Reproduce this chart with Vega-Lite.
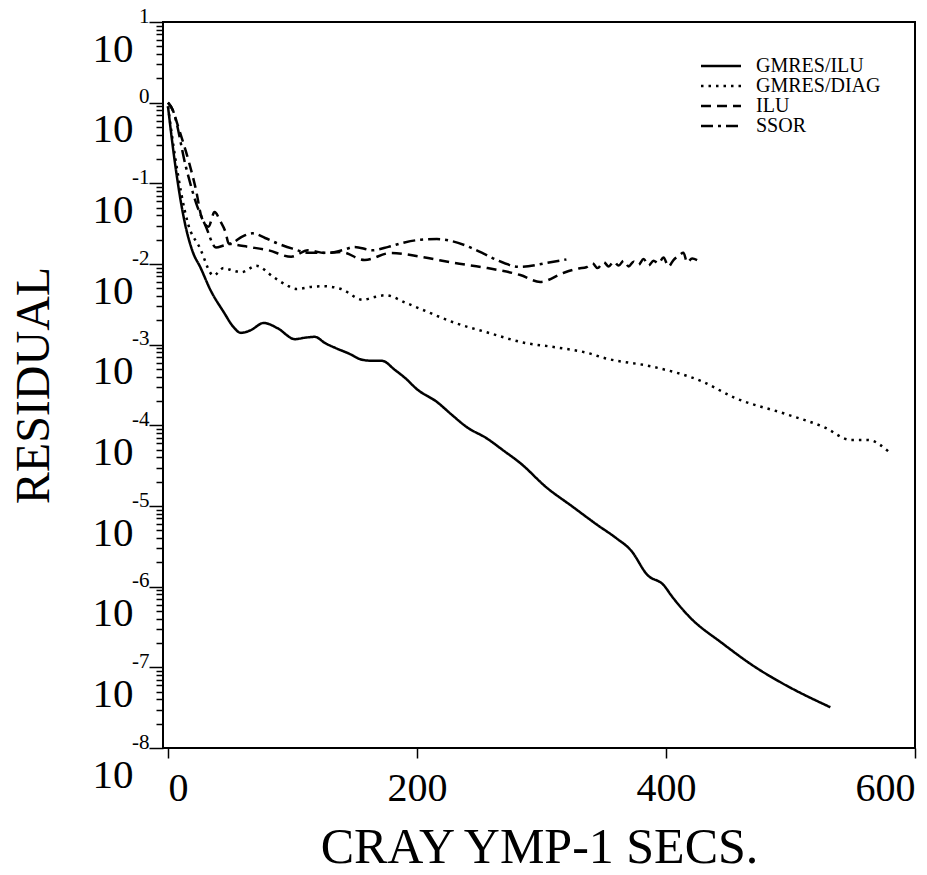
{
  "$schema": "https://vega.github.io/schema/vega-lite/v6.json",
  "width": 752,
  "height": 726,
  "autosize": {"type": "none"},
  "padding": {"left": 163, "top": 22, "right": 12, "bottom": 127},
  "background": "white",
  "config": {
    "font": "Liberation Serif",
    "view": {"stroke": "black", "strokeWidth": 2},
    "axis": {"domain": false, "grid": false, "tickColor": "black", "tickWidth": 1.5, "labelColor": "black", "titleColor": "black", "titleFontWeight": "normal", "labelFlush": false, "labelOverlap": false, "labelBound": false}
  },
  "data": {
    "values": [
      {"s": "GMRES/ILU", "t": 0, "r": 0.9},
      {"s": "GMRES/ILU", "t": 5, "r": 0.21},
      {"s": "GMRES/ILU", "t": 13.6, "r": 0.032},
      {"s": "GMRES/ILU", "t": 20, "r": 0.014},
      {"s": "GMRES/ILU", "t": 26, "r": 0.0091},
      {"s": "GMRES/ILU", "t": 34, "r": 0.0048},
      {"s": "GMRES/ILU", "t": 45, "r": 0.0025},
      {"s": "GMRES/ILU", "t": 52, "r": 0.0017},
      {"s": "GMRES/ILU", "t": 58.6, "r": 0.0014},
      {"s": "GMRES/ILU", "t": 66, "r": 0.0015},
      {"s": "GMRES/ILU", "t": 77, "r": 0.00186},
      {"s": "GMRES/ILU", "t": 88, "r": 0.0016},
      {"s": "GMRES/ILU", "t": 102, "r": 0.00117},
      {"s": "GMRES/ILU", "t": 110, "r": 0.00122},
      {"s": "GMRES/ILU", "t": 118, "r": 0.00125},
      {"s": "GMRES/ILU", "t": 126, "r": 0.00105},
      {"s": "GMRES/ILU", "t": 134.5, "r": 0.00091},
      {"s": "GMRES/ILU", "t": 145, "r": 0.00078},
      {"s": "GMRES/ILU", "t": 156, "r": 0.00065},
      {"s": "GMRES/ILU", "t": 165, "r": 0.00063},
      {"s": "GMRES/ILU", "t": 172, "r": 0.00063},
      {"s": "GMRES/ILU", "t": 182, "r": 0.00049},
      {"s": "GMRES/ILU", "t": 191, "r": 0.00038},
      {"s": "GMRES/ILU", "t": 200, "r": 0.00028},
      {"s": "GMRES/ILU", "t": 216, "r": 0.000195},
      {"s": "GMRES/ILU", "t": 228, "r": 0.000135},
      {"s": "GMRES/ILU", "t": 240, "r": 0.000095},
      {"s": "GMRES/ILU", "t": 256, "r": 0.000069},
      {"s": "GMRES/ILU", "t": 270, "r": 0.000048},
      {"s": "GMRES/ILU", "t": 283, "r": 0.000034},
      {"s": "GMRES/ILU", "t": 304, "r": 0.000017},
      {"s": "GMRES/ILU", "t": 325, "r": 0.0000098},
      {"s": "GMRES/ILU", "t": 345, "r": 0.0000058},
      {"s": "GMRES/ILU", "t": 360, "r": 0.000004},
      {"s": "GMRES/ILU", "t": 372, "r": 0.0000028},
      {"s": "GMRES/ILU", "t": 385, "r": 0.0000014},
      {"s": "GMRES/ILU", "t": 398, "r": 0.00000105},
      {"s": "GMRES/ILU", "t": 405, "r": 0.00000075},
      {"s": "GMRES/ILU", "t": 419, "r": 0.00000042},
      {"s": "GMRES/ILU", "t": 445, "r": 0.0000002},
      {"s": "GMRES/ILU", "t": 472, "r": 0.0000001},
      {"s": "GMRES/ILU", "t": 493, "r": 0.000000064},
      {"s": "GMRES/ILU", "t": 532, "r": 0.000000032},

      {"s": "GMRES/DIAG", "t": 0, "r": 0.9},
      {"s": "GMRES/DIAG", "t": 6, "r": 0.2},
      {"s": "GMRES/DIAG", "t": 16, "r": 0.032},
      {"s": "GMRES/DIAG", "t": 25.5, "r": 0.016},
      {"s": "GMRES/DIAG", "t": 36.6, "r": 0.0072},
      {"s": "GMRES/DIAG", "t": 44.6, "r": 0.0089},
      {"s": "GMRES/DIAG", "t": 52, "r": 0.0083},
      {"s": "GMRES/DIAG", "t": 59, "r": 0.0079},
      {"s": "GMRES/DIAG", "t": 71, "r": 0.0095},
      {"s": "GMRES/DIAG", "t": 84.7, "r": 0.0069},
      {"s": "GMRES/DIAG", "t": 95, "r": 0.0055},
      {"s": "GMRES/DIAG", "t": 103, "r": 0.0049},
      {"s": "GMRES/DIAG", "t": 115, "r": 0.0052},
      {"s": "GMRES/DIAG", "t": 124.6, "r": 0.0053},
      {"s": "GMRES/DIAG", "t": 139, "r": 0.0049},
      {"s": "GMRES/DIAG", "t": 156.6, "r": 0.0036},
      {"s": "GMRES/DIAG", "t": 166, "r": 0.0039},
      {"s": "GMRES/DIAG", "t": 175, "r": 0.0041},
      {"s": "GMRES/DIAG", "t": 191, "r": 0.0033},
      {"s": "GMRES/DIAG", "t": 204.6, "r": 0.0027},
      {"s": "GMRES/DIAG", "t": 231, "r": 0.00185},
      {"s": "GMRES/DIAG", "t": 255, "r": 0.00144},
      {"s": "GMRES/DIAG", "t": 287, "r": 0.00105},
      {"s": "GMRES/DIAG", "t": 311, "r": 0.00093},
      {"s": "GMRES/DIAG", "t": 337, "r": 0.00079},
      {"s": "GMRES/DIAG", "t": 351, "r": 0.00068},
      {"s": "GMRES/DIAG", "t": 390, "r": 0.00053},
      {"s": "GMRES/DIAG", "t": 429, "r": 0.00035},
      {"s": "GMRES/DIAG", "t": 455, "r": 0.00022},
      {"s": "GMRES/DIAG", "t": 495, "r": 0.00014},
      {"s": "GMRES/DIAG", "t": 527, "r": 0.000095},
      {"s": "GMRES/DIAG", "t": 548.5, "r": 0.000066},
      {"s": "GMRES/DIAG", "t": 562, "r": 0.000066},
      {"s": "GMRES/DIAG", "t": 579, "r": 0.000047},

      {"s": "ILU", "t": 0, "r": 1.0},
      {"s": "ILU", "t": 3, "r": 0.86},
      {"s": "ILU", "t": 9, "r": 0.46},
      {"s": "ILU", "t": 17, "r": 0.18},
      {"s": "ILU", "t": 22.5, "r": 0.083},
      {"s": "ILU", "t": 27, "r": 0.038},
      {"s": "ILU", "t": 32.5, "r": 0.029},
      {"s": "ILU", "t": 37.4, "r": 0.044},
      {"s": "ILU", "t": 42, "r": 0.034},
      {"s": "ILU", "t": 46.4, "r": 0.0243},
      {"s": "ILU", "t": 48.7, "r": 0.018},
      {"s": "ILU", "t": 53.5, "r": 0.0174},
      {"s": "ILU", "t": 64.6, "r": 0.0163},
      {"s": "ILU", "t": 80.6, "r": 0.0148},
      {"s": "ILU", "t": 99, "r": 0.0123},
      {"s": "ILU", "t": 112.5, "r": 0.0148},
      {"s": "ILU", "t": 126, "r": 0.0137},
      {"s": "ILU", "t": 139, "r": 0.0141},
      {"s": "ILU", "t": 158, "r": 0.0112},
      {"s": "ILU", "t": 179, "r": 0.0137},
      {"s": "ILU", "t": 203, "r": 0.0123},
      {"s": "ILU", "t": 230, "r": 0.0103},
      {"s": "ILU", "t": 256.6, "r": 0.0089},
      {"s": "ILU", "t": 283, "r": 0.0073},
      {"s": "ILU", "t": 299, "r": 0.006},
      {"s": "ILU", "t": 318, "r": 0.0078},
      {"s": "ILU", "t": 330, "r": 0.0088},
      {"s": "ILU", "t": 336, "r": 0.00912},
      {"s": "ILU", "t": 341, "r": 0.0102},
      {"s": "ILU", "t": 345, "r": 0.00891},
      {"s": "ILU", "t": 350, "r": 0.0105},
      {"s": "ILU", "t": 354, "r": 0.00933},
      {"s": "ILU", "t": 358, "r": 0.0107},
      {"s": "ILU", "t": 362, "r": 0.00955},
      {"s": "ILU", "t": 366, "r": 0.011},
      {"s": "ILU", "t": 370, "r": 0.00933},
      {"s": "ILU", "t": 374, "r": 0.0107},
      {"s": "ILU", "t": 378, "r": 0.00977},
      {"s": "ILU", "t": 382, "r": 0.0115},
      {"s": "ILU", "t": 386, "r": 0.00955},
      {"s": "ILU", "t": 390, "r": 0.011},
      {"s": "ILU", "t": 394, "r": 0.0102},
      {"s": "ILU", "t": 398, "r": 0.012},
      {"s": "ILU", "t": 402, "r": 0.00933},
      {"s": "ILU", "t": 406, "r": 0.0112},
      {"s": "ILU", "t": 410, "r": 0.0126},
      {"s": "ILU", "t": 414, "r": 0.0138},
      {"s": "ILU", "t": 417, "r": 0.0105},
      {"s": "ILU", "t": 421, "r": 0.0117},
      {"s": "ILU", "t": 425, "r": 0.0112},

      {"s": "SSOR", "t": 0, "r": 1.0},
      {"s": "SSOR", "t": 4, "r": 0.8},
      {"s": "SSOR", "t": 14.4, "r": 0.16},
      {"s": "SSOR", "t": 22.6, "r": 0.057},
      {"s": "SSOR", "t": 30.5, "r": 0.029},
      {"s": "SSOR", "t": 38.5, "r": 0.016},
      {"s": "SSOR", "t": 45, "r": 0.017},
      {"s": "SSOR", "t": 51, "r": 0.018},
      {"s": "SSOR", "t": 60, "r": 0.022},
      {"s": "SSOR", "t": 68, "r": 0.024},
      {"s": "SSOR", "t": 78, "r": 0.021},
      {"s": "SSOR", "t": 88, "r": 0.018},
      {"s": "SSOR", "t": 100, "r": 0.0155},
      {"s": "SSOR", "t": 113, "r": 0.0138},
      {"s": "SSOR", "t": 129, "r": 0.0138},
      {"s": "SSOR", "t": 140, "r": 0.0148},
      {"s": "SSOR", "t": 150, "r": 0.0163},
      {"s": "SSOR", "t": 164, "r": 0.0148},
      {"s": "SSOR", "t": 177, "r": 0.0163},
      {"s": "SSOR", "t": 190, "r": 0.0185},
      {"s": "SSOR", "t": 203, "r": 0.02},
      {"s": "SSOR", "t": 216, "r": 0.0204},
      {"s": "SSOR", "t": 238, "r": 0.0172},
      {"s": "SSOR", "t": 252, "r": 0.0138},
      {"s": "SSOR", "t": 264, "r": 0.0112},
      {"s": "SSOR", "t": 283, "r": 0.0092},
      {"s": "SSOR", "t": 304, "r": 0.0103},
      {"s": "SSOR", "t": 320, "r": 0.0114}
    ]
  },
  "layer": [
    {
      "mark": {"type": "line", "color": "black", "strokeWidth": 2.5, "interpolate": "monotone"},
      "encoding": {
        "x": {"field": "t", "type": "quantitative", "scale": {"domain": [-4, 600], "nice": false, "zero": false},
          "axis": {"values": [0, 200, 400, 600], "tickSize": 10, "labelFontSize": 40, "labelPadding": 10, "labelFlush": 10, "title": "CRAY YMP-1 SECS.", "titleFontSize": 50, "titlePadding": 14}},
        "y": {"field": "r", "type": "quantitative", "scale": {"type": "log", "domain": [1e-8, 10], "nice": false},
          "axis": {"orient": "left", "values": [1e-8, 1e-7, 1e-6, 1e-5, 1e-4, 1e-3, 1e-2, 1e-1, 1, 10], "tickSize": 14, "labelExpr": "'' + round(log(datum.value)/LN10)", "labelFontSize": 21, "labelAlign": "right", "labelBaseline": "alphabetic", "labelPadding": 0, "title": null}},
        "strokeDash": {"field": "s", "type": "nominal",
          "scale": {"domain": ["GMRES/ILU", "GMRES/DIAG", "ILU", "SSOR"], "range": [[1, 0], [2.5, 5], [10, 6], [12, 5, 3, 5]]},
          "legend": {"title": null, "orient": "none", "legendX": 548, "legendY": 34, "padding": 0, "symbolType": "M-4,0H4", "symbolSize": 100, "symbolStrokeWidth": 2.5, "symbolStrokeColor": "black", "symbolFillColor": "transparent", "labelFontSize": 20, "labelOffset": 25, "rowPadding": 0, "labelColor": "black"}}
      }
    },
    {
      "mark": {"type": "point", "opacity": 0},
      "encoding": {
        "x": {"field": "t", "type": "quantitative"},
        "y": {"field": "r", "type": "quantitative",
          "axis": {"orient": "left", "values": [2e-8,3e-8,4e-8,5e-8,6e-8,7e-8,8e-8,9e-8,2e-7,3e-7,4e-7,5e-7,6e-7,7e-7,8e-7,9e-7,2e-6,3e-6,4e-6,5e-6,6e-6,7e-6,8e-6,9e-6,2e-5,3e-5,4e-5,5e-5,6e-5,7e-5,8e-5,9e-5,2e-4,3e-4,4e-4,5e-4,6e-4,7e-4,8e-4,9e-4,2e-3,3e-3,4e-3,5e-3,6e-3,7e-3,8e-3,9e-3,0.02,0.03,0.04,0.05,0.06,0.07,0.08,0.09,0.2,0.3,0.4,0.5,0.6,0.7,0.8,0.9,2,3,4,5,6,7,8,9], "tickSize": 7, "labels": false, "title": null}}
      }
    },
    {
      "mark": {"type": "point", "opacity": 0},
      "encoding": {
        "x": {"field": "t", "type": "quantitative"},
        "y": {"field": "r", "type": "quantitative",
          "axis": {"orient": "left", "values": [1e-8, 1e-7, 1e-6, 1e-5, 1e-4, 1e-3, 1e-2, 1e-1, 1, 10], "ticks": false, "tickSize": 0, "labelExpr": "'10'", "labelFontSize": 41, "labelAlign": "right", "labelBaseline": "top", "labelOffset": 7, "labelPadding": 30, "title": "RESIDUAL", "titleFontSize": 48, "titlePadding": 34}}
      }
    }
  ],
  "resolve": {"axis": {"y": "independent"}}
}
